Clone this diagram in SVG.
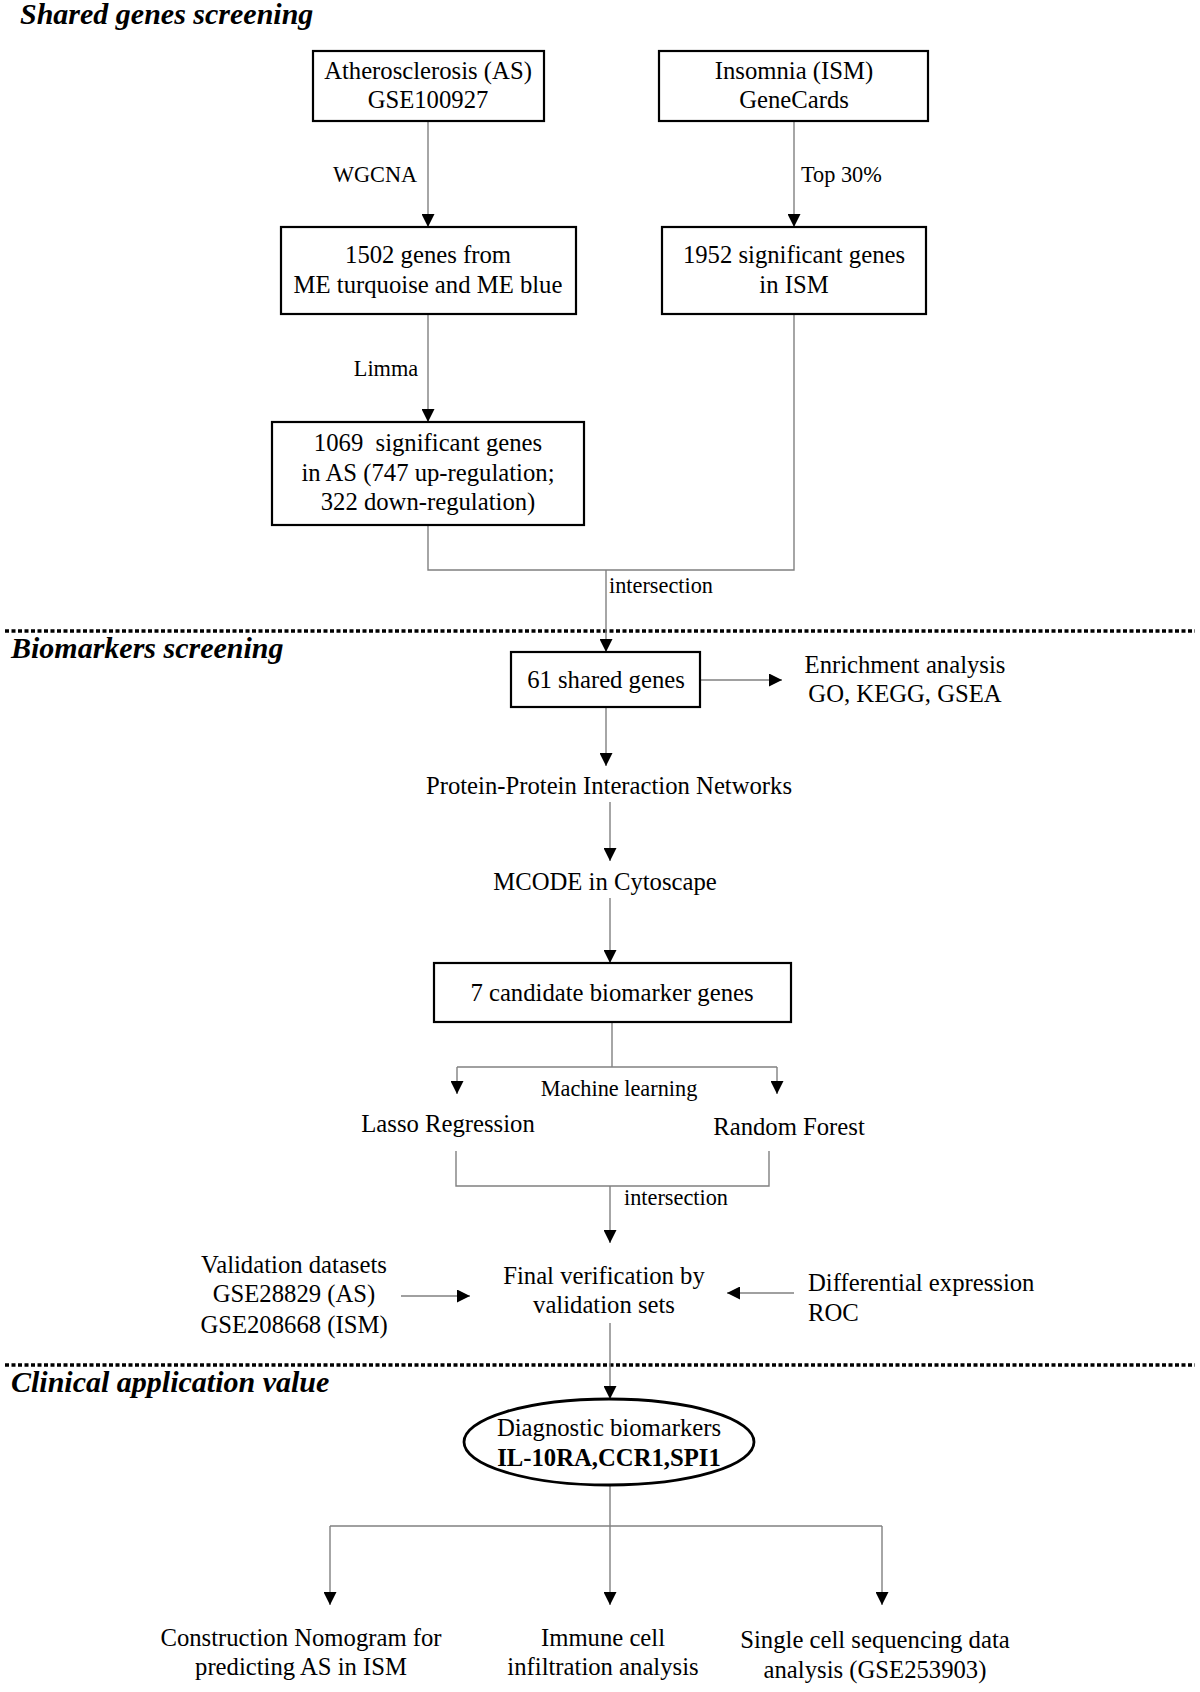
<svg xmlns="http://www.w3.org/2000/svg" width="1200" height="1692" viewBox="0 0 1200 1692">
<defs>
<marker id="ah" viewBox="0 0 13 13" refX="13" refY="6.5" markerWidth="13" markerHeight="13" markerUnits="userSpaceOnUse" orient="auto">
<path d="M0,0 L13,6.5 L0,13 Z" fill="#000"/>
</marker>
</defs>
<style>
text{font-family:"Liberation Serif","Times New Roman",serif;fill:#000;}
.t{font-size:24.7px;text-anchor:middle;}
.l{font-size:22.3px;}
.h{font-size:30px;font-weight:bold;font-style:italic;}
.box{fill:#fff;stroke:#000;stroke-width:2.2;}
.c{fill:none;stroke:#808080;stroke-width:1.4;}
.a{fill:none;stroke:#808080;stroke-width:1.4;marker-end:url(#ah);}
.d{fill:none;stroke:#000;stroke-width:3.3;stroke-dasharray:4 2.5;}
</style>
<rect width="1200" height="1692" fill="#fff"/>

<g id="sections">
<text class="h" x="20" y="24">Shared genes screening</text>
<line class="d" x1="5" y1="631" x2="1195" y2="631"/>
<text class="h" x="11" y="658">Biomarkers screening</text>
<line class="d" x1="5" y1="1365" x2="1195" y2="1365"/>
<text class="h" x="11" y="1392">Clinical application value</text>
</g>

<g id="connectors">
<line class="a" x1="428" y1="121" x2="428" y2="227"/>
<line class="a" x1="794" y1="121" x2="794" y2="227"/>
<line class="a" x1="428" y1="314" x2="428" y2="422"/>
<polyline class="c" points="428,525 428,570 794,570 794,314"/>
<line class="a" x1="606" y1="570" x2="606" y2="652"/>
<line class="a" x1="699" y1="680" x2="782" y2="680"/>
<line class="a" x1="606" y1="707" x2="606" y2="766"/>
<line class="a" x1="610" y1="802" x2="610" y2="861"/>
<line class="a" x1="610" y1="898" x2="610" y2="963"/>
<polyline class="c" points="612,1022 612,1067"/>
<polyline class="a" points="457,1067 457,1094"/>
<polyline class="c" points="457,1067 777,1067"/>
<polyline class="a" points="777,1067 777,1094"/>
<polyline class="c" points="456,1151 456,1186 769,1186 769,1151"/>
<line class="a" x1="610" y1="1186" x2="610" y2="1243"/>
<line class="a" x1="401" y1="1296" x2="470" y2="1296"/>
<line class="a" x1="794" y1="1293" x2="727" y2="1293"/>
<line class="a" x1="610" y1="1323" x2="610" y2="1399"/>
<line class="c" x1="610" y1="1485" x2="610" y2="1526"/>
<line class="c" x1="330" y1="1526" x2="882" y2="1526"/>
<line class="a" x1="330" y1="1526" x2="330" y2="1605"/>
<line class="a" x1="610" y1="1526" x2="610" y2="1605"/>
<line class="a" x1="882" y1="1526" x2="882" y2="1605"/>
<text class="l" x="375" y="182" text-anchor="middle">WGCNA</text>
<text class="l" x="801" y="182">Top 30%</text>
<text class="l" x="386" y="376" text-anchor="middle">Limma</text>
<text class="l" x="609" y="593">intersection</text>
<text class="l" x="619" y="1096" text-anchor="middle">Machine learning</text>
<text class="l" x="624" y="1205">intersection</text>
</g>

<g id="node-as">
<rect class="box" x="313" y="51" width="231" height="70"/>
<text class="t" x="428" y="79">Atherosclerosis (AS)</text>
<text class="t" x="428" y="108">GSE100927</text>
</g>
<g id="node-ism">
<rect class="box" x="659" y="51" width="269" height="70"/>
<text class="t" x="794" y="79">Insomnia (ISM)</text>
<text class="t" x="794" y="108">GeneCards</text>
</g>
<g id="node-1502">
<rect class="box" x="281" y="227" width="295" height="87"/>
<text class="t" x="428" y="263">1502 genes from</text>
<text class="t" x="428" y="293">ME turquoise and ME blue</text>
</g>
<g id="node-1952">
<rect class="box" x="662" y="227" width="264" height="87"/>
<text class="t" x="794" y="263">1952 significant genes</text>
<text class="t" x="794" y="293">in ISM</text>
</g>
<g id="node-1069">
<rect class="box" x="272" y="422" width="312" height="103"/>
<text class="t" x="428" y="451" xml:space="preserve">1069  significant genes</text>
<text class="t" x="428" y="481">in AS (747 up-regulation;</text>
<text class="t" x="428" y="510">322 down-regulation)</text>
</g>
<g id="node-61">
<rect class="box" x="511" y="652" width="189" height="55"/>
<text class="t" x="606" y="688">61 shared genes</text>
</g>
<g id="node-enrich">
<text class="t" x="905" y="673">Enrichment analysis</text>
<text class="t" x="905" y="702">GO, KEGG, GSEA</text>
</g>
<g id="node-ppi">
<text class="t" x="609" y="794">Protein-Protein Interaction Networks</text>
</g>
<g id="node-mcode">
<text class="t" x="605" y="890">MCODE in Cytoscape</text>
</g>
<g id="node-7">
<rect class="box" x="434" y="963" width="357" height="59"/>
<text class="t" x="612" y="1001">7 candidate biomarker genes</text>
</g>
<g id="node-lasso">
<text class="t" x="448" y="1132">Lasso Regression</text>
</g>
<g id="node-rf">
<text class="t" x="789" y="1135">Random Forest</text>
</g>
<g id="node-final">
<text class="t" x="604" y="1284">Final verification by</text>
<text class="t" x="604" y="1313">validation sets</text>
</g>
<g id="node-validation">
<text class="t" x="294" y="1273">Validation datasets</text>
<text class="t" x="294" y="1302">GSE28829 (AS)</text>
<text class="t" x="294" y="1333">GSE208668 (ISM)</text>
</g>
<g id="node-diff">
<text style="font-size:24.7px" x="808" y="1291">Differential expression</text>
<text style="font-size:24.7px" x="808" y="1321">ROC</text>
</g>
<g id="node-diag">
<ellipse cx="609" cy="1442" rx="145" ry="43" fill="#fff" stroke="#000" stroke-width="2.8"/>
<text class="t" x="609" y="1436">Diagnostic biomarkers</text>
<text class="t" x="609" y="1466" font-weight="bold">IL-10RA,CCR1,SPI1</text>
</g>
<g id="node-nomogram">
<text class="t" x="301" y="1646">Construction Nomogram for</text>
<text class="t" x="301" y="1675">predicting AS in ISM</text>
</g>
<g id="node-immune">
<text class="t" x="603" y="1646">Immune cell</text>
<text class="t" x="603" y="1675">infiltration analysis</text>
</g>
<g id="node-single">
<text class="t" x="875" y="1648">Single cell sequencing data</text>
<text class="t" x="875" y="1678">analysis (GSE253903)</text>
</g>
</svg>
